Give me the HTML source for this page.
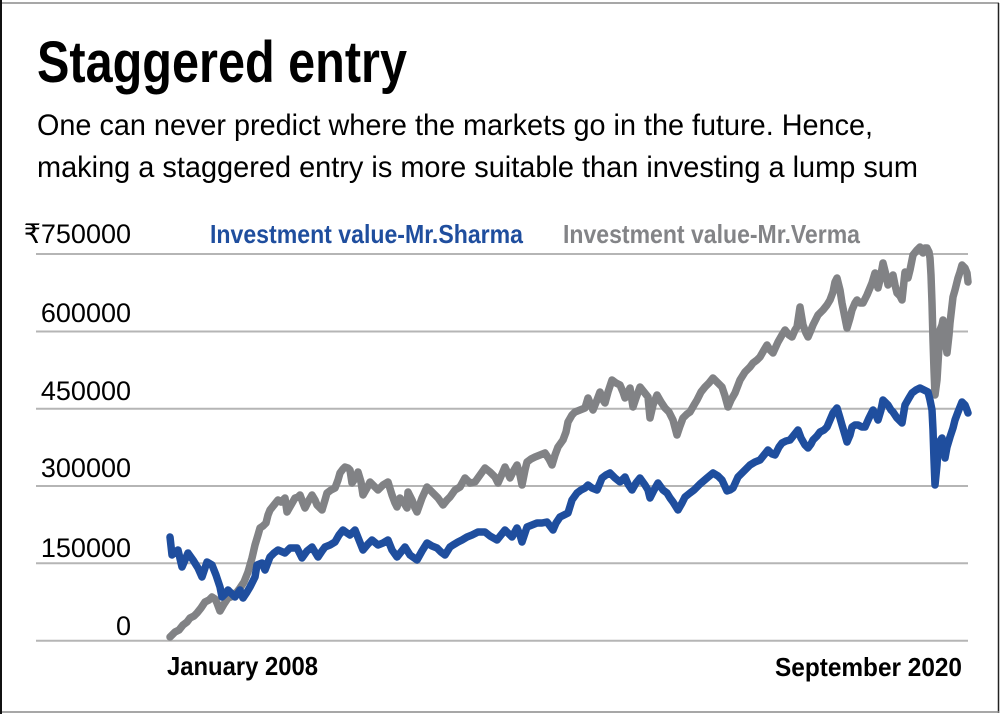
<!DOCTYPE html>
<html>
<head>
<meta charset="utf-8">
<style>
  html, body { margin:0; padding:0; background:#fff; }
  body { width:1000px; height:714px; overflow:hidden; }
  svg { display:block; }
  .lab { font-family:"Liberation Sans", "DejaVu Sans", sans-serif; }
</style>
</head>
<body>
<svg width="1000" height="714" viewBox="0 0 1000 714" xmlns="http://www.w3.org/2000/svg">
  <rect x="0" y="0" width="1000" height="714" fill="#fff"/>
  <!-- frame -->
  <line x1="0" y1="3" x2="999" y2="3" stroke="#8a8a8a" stroke-width="1.5"/>
  <line x1="998.5" y1="3" x2="998.5" y2="713" stroke="#222" stroke-width="1.5"/>
  <line x1="0" y1="712" x2="999" y2="712" stroke="#8a8a8a" stroke-width="1.5"/>
  <line x1="1" y1="0" x2="1" y2="714" stroke="#111" stroke-width="2"/>

  <!-- title -->
  <text class="lab" x="37" y="82" font-size="58" font-weight="bold" fill="#000" textLength="370" lengthAdjust="spacingAndGlyphs">Staggered entry</text>
  <text class="lab" x="37" y="135" font-size="30" fill="#000" textLength="836" lengthAdjust="spacingAndGlyphs">One can never predict where the markets go in the future. Hence,</text>
  <text class="lab" x="37" y="177" font-size="30" fill="#000" textLength="881" lengthAdjust="spacingAndGlyphs">making a staggered entry is more suitable than investing a lump sum</text>

  <!-- legend -->
  <text class="lab" x="210" y="243" font-size="26" font-weight="bold" fill="#1f4e9e" textLength="313" lengthAdjust="spacingAndGlyphs">Investment value-Mr.Sharma</text>
  <text class="lab" x="563" y="243" font-size="26" font-weight="bold" fill="#838487" textLength="297" lengthAdjust="spacingAndGlyphs">Investment value-Mr.Verma</text>

  <!-- gridlines -->
  <g stroke="#b5b5b5" stroke-width="2">
    <line x1="36" y1="254" x2="968" y2="254"/>
    <line x1="36" y1="331.5" x2="968" y2="331.5"/>
    <line x1="36" y1="408.8" x2="968" y2="408.8"/>
    <line x1="36" y1="486" x2="968" y2="486"/>
    <line x1="36" y1="563.3" x2="968" y2="563.3"/>
    <line x1="36" y1="640.7" x2="968" y2="640.7"/>
  </g>

  <!-- y labels -->
  <g class="lab" font-size="27" fill="#000" text-anchor="end">
    <text x="131" y="243">₹750000</text>
    <text x="131" y="322">600000</text>
    <text x="131" y="400">450000</text>
    <text x="131" y="477">300000</text>
    <text x="131" y="557">150000</text>
    <text x="131" y="635">0</text>
  </g>

  <!-- x labels -->
  <text class="lab" x="167" y="675" font-size="26" font-weight="bold" fill="#000" textLength="151" lengthAdjust="spacingAndGlyphs">January 2008</text>
  <text class="lab" x="775" y="676" font-size="26" font-weight="bold" fill="#000" textLength="187" lengthAdjust="spacingAndGlyphs">September 2020</text>

  <!-- Mr.Verma (gray) -->
  <polyline fill="none" stroke="#818285" stroke-width="7.5" stroke-linejoin="round" stroke-linecap="round"
    points="170,637 175,632 179,630 183,625 187,622 190,618 194,616 197,613 201,608 205,602 209,600 212,597 215,599 217,603 220,611 224,604 228,598 231,597 234,594 237,592 240,588 244,582 248,572 252,558 255,545 258,535 260,528 263,526 266,523 268,515 270,510 274,505 278,500 281,502 283,500 285,498 287,512 291,505 295,498 298,497 300,495 303,503 305,508 309,500 312,495 315,500 317,505 320,508 322,510 325,500 327,493 331,490 335,488 338,480 340,473 343,469 345,467 348,468 350,470 352,483 356,477 358,472 361,482 363,495 367,488 370,482 374,486 378,490 383,485 388,482 392,495 395,503 397,507 400,498 404,503 407,508 408,492 412,500 415,508 417,512 422,498 427,487 430,490 433,493 438,498 443,505 447,500 450,497 455,490 460,487 465,478 470,483 475,482 480,475 485,468 490,472 495,477 498,483 502,474 505,467 510,478 514,470 517,465 520,475 522,485 525,470 527,462 531,459 535,457 540,455 545,453 549,459 552,465 555,455 558,447 563,440 566,432 568,422 572,415 575,412 580,410 585,408 588,398 593,410 597,400 600,392 603,400 605,403 608,392 612,380 616,383 620,385 623,392 625,398 628,392 630,388 633,407 636,398 640,387 644,392 648,397 650,418 653,405 657,395 661,402 665,408 669,412 673,420 677,435 680,426 683,418 687,414 690,412 694,405 697,400 701,392 705,387 709,383 713,378 717,382 722,387 725,396 728,407 731,400 735,393 740,380 745,372 750,367 753,363 757,360 760,357 764,350 767,345 770,350 773,353 778,342 782,335 785,330 789,335 792,337 795,330 797,327 800,307 803,325 806,333 808,337 811,330 813,325 818,315 823,310 827,305 830,300 833,292 835,282 837,278 840,290 842,303 845,318 847,328 850,318 852,310 855,303 857,300 860,303 863,303 867,295 872,283 875,273 878,288 880,280 883,263 886,275 888,285 891,280 893,275 895,285 897,293 900,296 902,300 905,272 908,278 910,270 913,255 917,250 920,247 923,253 925,248 927,248 929,252 930,258 931,275 932,303 933,340 934,370 935,395 937,380 940,330 942,325 943,320 945,340 947,353 949,335 950,323 953,297 955,290 958,278 960,272 962,265 965,268 967,273 968,282"/>

  <!-- Mr.Sharma (blue) -->
  <polyline fill="none" stroke="#1f4e9e" stroke-width="7.5" stroke-linejoin="round" stroke-linecap="round"
    points="170,537 172,555 175,552 178,550 182,567 185,560 188,553 193,560 198,568 202,577 207,562 212,565 216,575 220,587 222,597 225,594 228,590 232,594 235,597 240,590 243,598 247,592 250,587 255,577 257,565 262,563 265,570 270,557 274,553 278,550 285,553 290,548 297,548 302,558 307,551 312,547 318,557 322,551 325,547 330,545 335,542 339,535 343,530 347,533 350,535 355,530 359,540 363,550 368,544 372,540 378,545 383,543 388,540 392,550 397,557 401,552 405,547 410,555 417,560 422,551 427,543 432,546 437,548 441,552 445,555 450,547 453,545 458,542 462,540 467,537 472,535 478,532 485,532 490,536 497,540 501,535 505,530 509,534 512,537 517,528 520,535 522,542 525,533 527,527 532,525 537,523 542,523 547,522 550,526 553,530 556,523 560,517 564,515 568,513 572,500 577,493 581,490 585,488 588,485 592,488 597,490 600,483 602,478 606,475 610,473 615,478 620,482 625,477 628,484 632,490 636,483 640,478 645,485 648,490 650,498 654,490 658,483 663,490 667,493 670,498 673,502 678,510 682,503 685,497 690,493 694,490 700,484 707,478 713,473 718,476 722,480 727,491 730,490 733,488 738,477 742,473 745,470 750,465 755,462 760,460 764,455 768,450 772,454 775,455 779,447 782,443 786,441 790,440 794,435 798,430 801,438 805,445 808,448 811,444 813,440 817,436 820,432 824,430 827,427 830,420 833,413 837,408 840,418 842,425 845,435 847,442 850,435 852,427 855,425 858,425 862,427 865,427 869,418 873,410 876,415 878,420 881,410 883,400 886,403 888,405 891,410 893,412 897,418 902,423 905,405 909,398 912,393 916,390 920,388 924,390 928,392 930,400 932,410 933,430 934,460 935,485 937,465 938,447 940,441 942,438 944,450 945,458 947,447 950,437 953,428 955,420 958,412 962,402 965,405 967,410 968,413"/>
</svg>
</body>
</html>
